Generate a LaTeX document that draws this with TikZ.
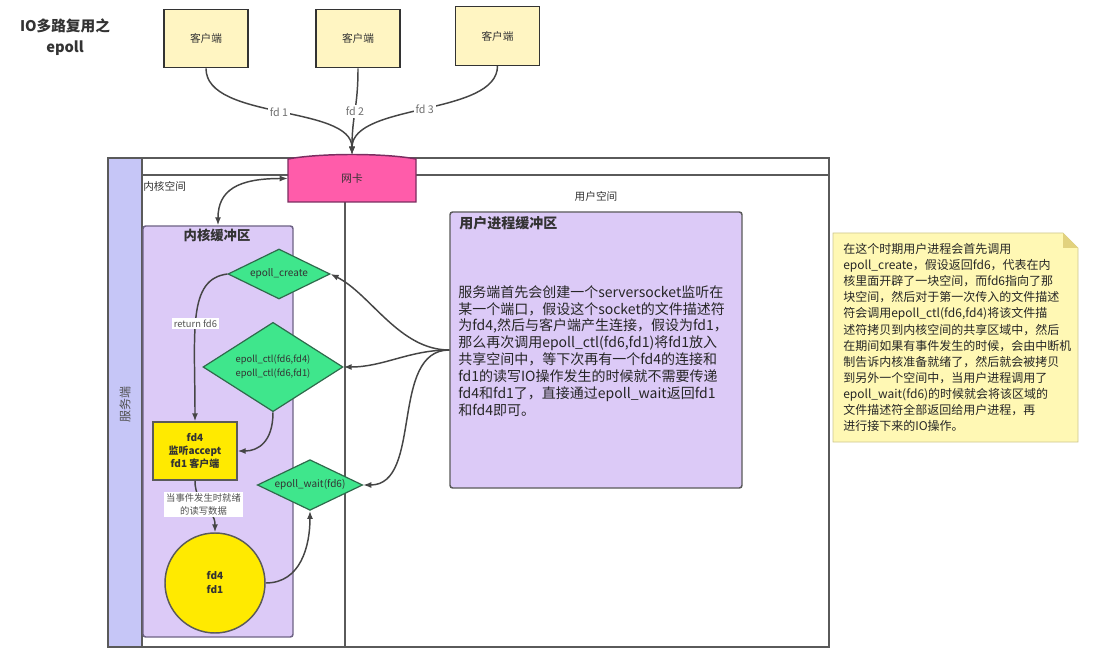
\documentclass[tikz,border=0pt]{standalone}
\usepackage{fontspec}
\setmainfont{Noto Sans CJK SC}
\usetikzlibrary{shapes.geometric,arrows.meta}

\definecolor{inkgrey}{HTML}{333333}
\definecolor{framegrey}{HTML}{5A5A5A}
\definecolor{flowline}{HTML}{454545}
\definecolor{clientfill}{HTML}{FFF5C2}
\definecolor{nicfill}{HTML}{FF5CAA}
\definecolor{nicline}{HTML}{7A2D60}
\definecolor{sidebar}{HTML}{C6C6F7}
\definecolor{bufferfill}{HTML}{DCCAF7}
\definecolor{bufferline}{HTML}{6E6385}
\definecolor{diamondfill}{HTML}{3FE68C}
\definecolor{diamondline}{HTML}{2E6A4B}
\definecolor{readyfill}{HTML}{FFEA00}
\definecolor{notefill}{HTML}{FFF8B4}
\definecolor{notefold}{HTML}{E2D27E}

\tikzset{
  client/.style={draw=inkgrey, line width=0.9pt, fill=clientfill, minimum width=63pt, minimum height=44pt, text=inkgrey, font=\fontsize{8}{10}\selectfont},
  spacelabel/.style={inner sep=0.75pt, text=inkgrey, font=\fontsize{8}{10}\selectfont},
  buftitle/.style={inner sep=0.75pt, text=inkgrey, font=\bfseries\fontsize{10}{12}\selectfont},
  buffer/.style={draw=bufferline, line width=1.1pt, fill=bufferfill, rounded corners=2pt},
  decision/.style={diamond, aspect=2, inner sep=0pt, draw=diamondline, line width=0.9pt, fill=diamondfill, align=center, text=black!80, font=\fontsize{7.5}{10}\selectfont},
  flow/.style={draw=flowline, line width=1.1pt, ->},
  edgelabel/.style={fill=white, inner sep=1.5pt, align=center, text=inkgrey!85, font=\fontsize{7}{9.5}\selectfont},
  fdlabel/.style={fill=white, inner sep=1.5pt, text=inkgrey!70, font=\fontsize{8}{10}\selectfont},
  area/.style={draw=framegrey, line width=1.1pt},
  bodytext/.style={inner sep=0pt, align=left, text=black!85, font=\fontsize{10.5}{12.7}\selectfont},
}

\begin{document}
\begin{tikzpicture}[x=0.75pt,y=0.75pt,yscale=-1,xscale=1,>={Latex[length=6pt,width=4.5pt]}]
\useasboundingbox (0,0) rectangle (1100,656);

% Text Node
\node[align=center, inner sep=0pt, text=inkgrey, font=\bfseries\fontsize{11}{15.75}\selectfont] (title) at (65,37) {IO多路复用之\\epoll};

%Shape: clients
\node[client] (c1) at (206,38.5) {客户端};
\node[client] (c2) at (358,38.5) {客户端};
\node[client] (c3) at (497.5,36) {客户端};

%Shape: outer frame
\draw[area, fill=white] (108,158) rectangle (829,647);
\draw[area, fill=sidebar] (108,158) rectangle (142,647);
\draw[area] (142,175) -- (829,175);
\draw[area] (345,202) -- (345,647);
\node[spacelabel, anchor=west] (kspace) at (142,186) {内核空间};
\node[spacelabel] (uspace) at (596,196) {用户空间};
\node[spacelabel, rotate=90, text=inkgrey!85, font=\fontsize{9}{10}\selectfont] (server) at (125,404) {服务端};

%Shape: network card
\draw[draw=nicline, line width=1.1pt, fill=nicfill] (288,202) -- (288,159) .. controls (320,153) and (384,153) .. (416,159) -- (416,202) -- cycle;
\node[spacelabel, minimum width=96pt, minimum height=35.25pt] (nic) at (352,178.5) {网卡};

%Shape: kernel buffer
\node[buffer, minimum width=112.5pt, minimum height=308.25pt] (kbuf) at (218,431.5) {};
\node[buftitle] (kbuftitle) at (217,235) {内核缓冲区};

%Shape: diamonds
\node[decision, minimum width=76.5pt, minimum height=37.5pt] (create) at (279,274) {epoll\_create};
\node[decision, minimum width=105pt, minimum height=67pt, font=\fontsize{7}{10.5}\selectfont] (ctl) at (273,367) {epoll\_ctl(fd6,fd4)\\epoll\_ctl(fd6,fd1)};
\node[decision, minimum width=79pt, minimum height=38pt] (wait) at (310,485) {epoll\_wait(fd6)};

%Shape: ready box and circle
\node[draw=framegrey, line width=1.1pt, fill=readyfill, minimum width=63pt, minimum height=43.5pt, align=center, text=inkgrey, font=\bfseries\fontsize{7.5}{10}\selectfont] (ready) at (195,451) {fd4\\监听accept\\fd1 客户端};
\node[circle, draw=framegrey, line width=1.1pt, fill=readyfill, minimum size=75pt, align=center, text=inkgrey, font=\bfseries\fontsize{7.5}{10.5}\selectfont] (events) at (215,583) {fd4\\fd1};

%Shape: user buffer
\node[buffer, draw=framegrey, minimum width=219pt, minimum height=207pt] (ubuf) at (596,350) {};
\node[buftitle, anchor=west, font=\bfseries\fontsize{10.5}{12}\selectfont] (ubuftitle) at (458,223) {用户进程缓冲区};
\node[bodytext, anchor=north west] (ubuftext) at (458,285) {服务端首先会创建一个serversocket监听在\\某一个端口，假设这个socket的文件描述符\\为fd4,然后与客户端产生连接，假设为fd1，\\那么再次调用epoll\_ctl(fd6,fd1)将fd1放入\\共享空间中，等下次再有一个fd4的连接和\\fd1的读写IO操作发生的时候就不需要传递\\fd4和fd1了，直接通过epoll\_wait返回fd1\\和fd4即可。};

%Shape: note
\draw[fill=notefill, draw=notefill!80!black, line width=0.5pt] (833,233) -- (1063,233) -- (1078,248) -- (1078,442) -- (833,442) -- cycle;
\fill[notefold] (1063,233) -- (1063,248) -- (1078,248) -- cycle;
\node[bodytext, anchor=north west, font=\fontsize{9}{12.1}\selectfont] (note) at (843,243) {在这个时期用户进程会首先调用\\epoll\_create，假设返回fd6，代表在内\\核里面开辟了一块空间，而fd6指向了那\\块空间，然后对于第一次传入的文件描述\\符会调用epoll\_ctl(fd6,fd4)将该文件描\\述符拷贝到内核空间的共享区域中，然后\\在期间如果有事件发生的时候，会由中断机\\制告诉内核准备就绪了，然后就会被拷贝\\到另外一个空间中，当用户进程调用了\\epoll\_wait(fd6)的时候就会将该区域的\\文件描述符全部返回给用户进程，再\\进行接下来的IO操作。};

%Straight Lines: client connections
\draw[flow] (c1.south) .. controls +(0,52) and +(0,-50) .. (nic.north) node[fdlabel, pos=0.5] {fd 1};
\draw[flow] (c2.south) .. controls +(0,40) and +(0,-40) .. (nic.north) node[fdlabel, pos=0.5] {fd 2};
\draw[flow] (c3.south) .. controls +(0,50) and +(0,-52) .. (nic.north) node[fdlabel, pos=0.5] {fd 3};

%Straight Lines: kernel side
\draw[flow, <->] (nic.west) .. controls +(-50,0) and +(0,-35) .. (kbuf.north);
\draw[flow] (create.west) .. controls +(-40,5) and +(0,-90) .. (ready.north) node[edgelabel, pos=0.55] {return fd6};
\draw[flow] (ctl.south) .. controls +(0,30) and +(20,0) .. (ready.east);
\draw[flow] (ready.south) .. controls +(0,25) and +(0,-25) .. (events.north) node[edgelabel, pos=0.45] {当事件发生时就绪\\的读写数据};
\draw[flow] (events.east) .. controls +(35,0) and +(0,35) .. (wait.south);

%Straight Lines: user side
\draw[flow] (ubuf.west) .. controls +(-50,0) and +(40,20) .. (create.east);
\draw[flow] (ubuf.west) .. controls +(-40,0) and +(40,0) .. (ctl.east);
\draw[flow] (ubuf.west) .. controls +(-60,0) and +(60,0) .. (wait.east);

\end{tikzpicture}
\end{document}
